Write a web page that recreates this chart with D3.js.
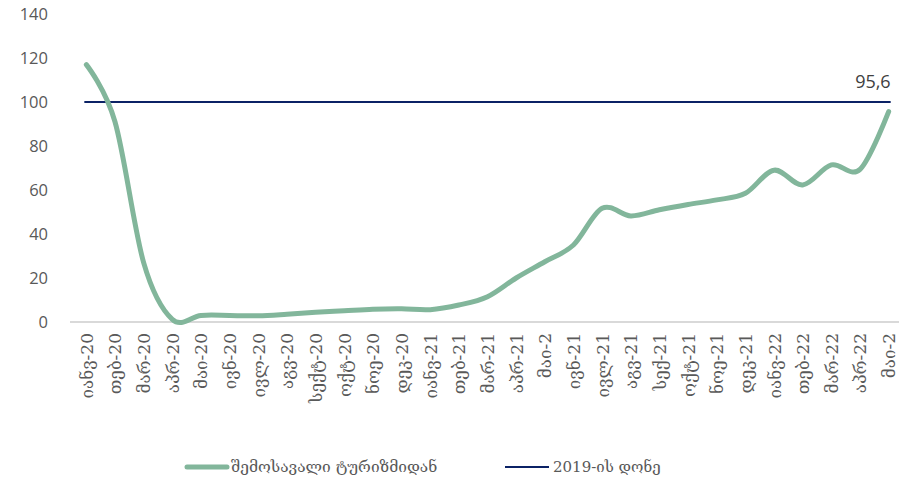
<!DOCTYPE html>
<html>
<head>
<meta charset="utf-8">
<script src="https://cdn.jsdelivr.net/npm/d3@7"></script>
<style>
  body { margin: 0; background: #fff; }
  svg { display: block; }
</style>
</head>
<body>
<div id="chart"></div>
<script>
// months (Georgian abbreviations, as in the source)
const months = [
  'იანვ-20', 'თებ-20', 'მარ-20', 'აპრ-20', 'მაი-20', 'ივნ-20', 'ივლ-20', 'აგვ-20',
  'სექტ-20', 'ოქტ-20', 'ნოე-20', 'დეკ-20', 'იანვ-21', 'თებ-21', 'მარ-21', 'აპრ-21',
  'მაი-2', 'ივნ-21', 'ივლ-21', 'აგვ-21', 'სექ-21', 'ოქტ-21', 'ნოე-21', 'დეკ-21',
  'იანვ-22', 'თებ-22', 'მარ-22', 'აპრ-22', 'მაი-2'
];
// tourism revenue, % of 2019 level
const tourism = [
  117, 91, 27, 1.2, 3, 3, 2.8, 3.5, 4.4, 5.1, 5.8, 6, 5.6, 7.7, 11.5, 20,
  27.4, 35, 51.7, 48.2, 51, 53.4, 55.5, 58.5, 69, 62.3, 71.4, 69.4, 95.6
];
const baseline = 100;
const yTicks = [0, 20, 40, 60, 80, 100, 120, 140];
const seriesNames = ['შემოსავალი ტურიზმიდან', '2019-ის დონე'];
const lastLabel = '95,6';

const width = 899, height = 483;
const green = '#82b69b', navy = '#0b2265';

let svg = d3.select('#chart').append('svg')
  .attr('width', width)
  .attr('height', height);

// "მაი-2" appears twice, so the scale is keyed by index
let idx = d3.range(months.length);
let x = d3.scalePoint().domain(idx).range([72, 903]).padding(0.5);
let y = d3.scaleLinear().domain([0, 140]).range([322, 14]);

// y tick labels, no axis line
let yAxis = svg.append('g')
  .attr('transform', 'translate(48,0)')
  .call(d3.axisLeft(y).tickValues(yTicks).tickSize(0).tickPadding(0));
yAxis.select('.domain').remove();
yAxis.selectAll('text')
  .attr('fill', '#595959')
  .style('font-family', 'Open Sans, sans-serif')
  .style('font-size', '16.5px');

// x axis
let xAxis = svg.append('g')
  .attr('transform', `translate(0,${y(0)})`)
  .call(d3.axisBottom(x).tickSize(0).tickPadding(0).tickFormat(i => months[i]));
xAxis.select('.domain')
  .attr('d', 'M70,0H903')
  .attr('stroke', '#d9d9d9')
  .attr('stroke-width', 2);
xAxis.selectAll('text')
  .attr('fill', '#595959')
  .attr('transform', 'translate(0,11) rotate(-90)')
  .attr('dy', '0.35em')
  .attr('x', 0)
  .attr('y', 0)
  .attr('text-anchor', 'end')
  .style('font-family', 'DejaVu Serif, DejaVu Sans, serif')
  .style('font-size', '17px');

// 2019 level
svg.append('line')
  .attr('x1', x(0) - 2)
  .attr('x2', x(months.length - 1) + 2)
  .attr('y1', y(baseline))
  .attr('y2', y(baseline))
  .attr('stroke', navy)
  .attr('stroke-width', 2.2);

// tourism line
let line = d3.line()
  .x((d, i) => x(i))
  .y(d => y(d))
  .curve(d3.curveCatmullRom.alpha(0));

svg.append('path')
  .datum(tourism)
  .attr('d', line)
  .attr('fill', 'none')
  .attr('stroke', green)
  .attr('stroke-width', 5)
  .attr('stroke-linecap', 'round')
  .attr('stroke-linejoin', 'round');

svg.append('text')
  .attr('x', x(months.length - 1) + 2)
  .attr('y', 88)
  .attr('text-anchor', 'end')
  .attr('fill', '#404040')
  .style('font-family', 'Open Sans, sans-serif')
  .style('font-size', '18px')
  .text(lastLabel);

// legend
let legend = svg.append('g').style('font-family', 'DejaVu Serif, DejaVu Sans, serif');
legend.append('line')
  .attr('x1', 187).attr('x2', 227).attr('y1', 467).attr('y2', 467)
  .attr('stroke', green).attr('stroke-width', 5).attr('stroke-linecap', 'round');
legend.append('text')
  .attr('x', 231).attr('y', 467).attr('dy', '0.35em')
  .attr('fill', '#595959').style('font-size', '15.5px')
  .text(seriesNames[0]);
legend.append('line')
  .attr('x1', 505).attr('x2', 549).attr('y1', 467).attr('y2', 467)
  .attr('stroke', navy).attr('stroke-width', 2.2);
legend.append('text')
  .attr('x', 553).attr('y', 467).attr('dy', '0.35em')
  .attr('fill', '#595959').style('font-size', '15px')
  .text(seriesNames[1]);
</script>
</body>
</html>
